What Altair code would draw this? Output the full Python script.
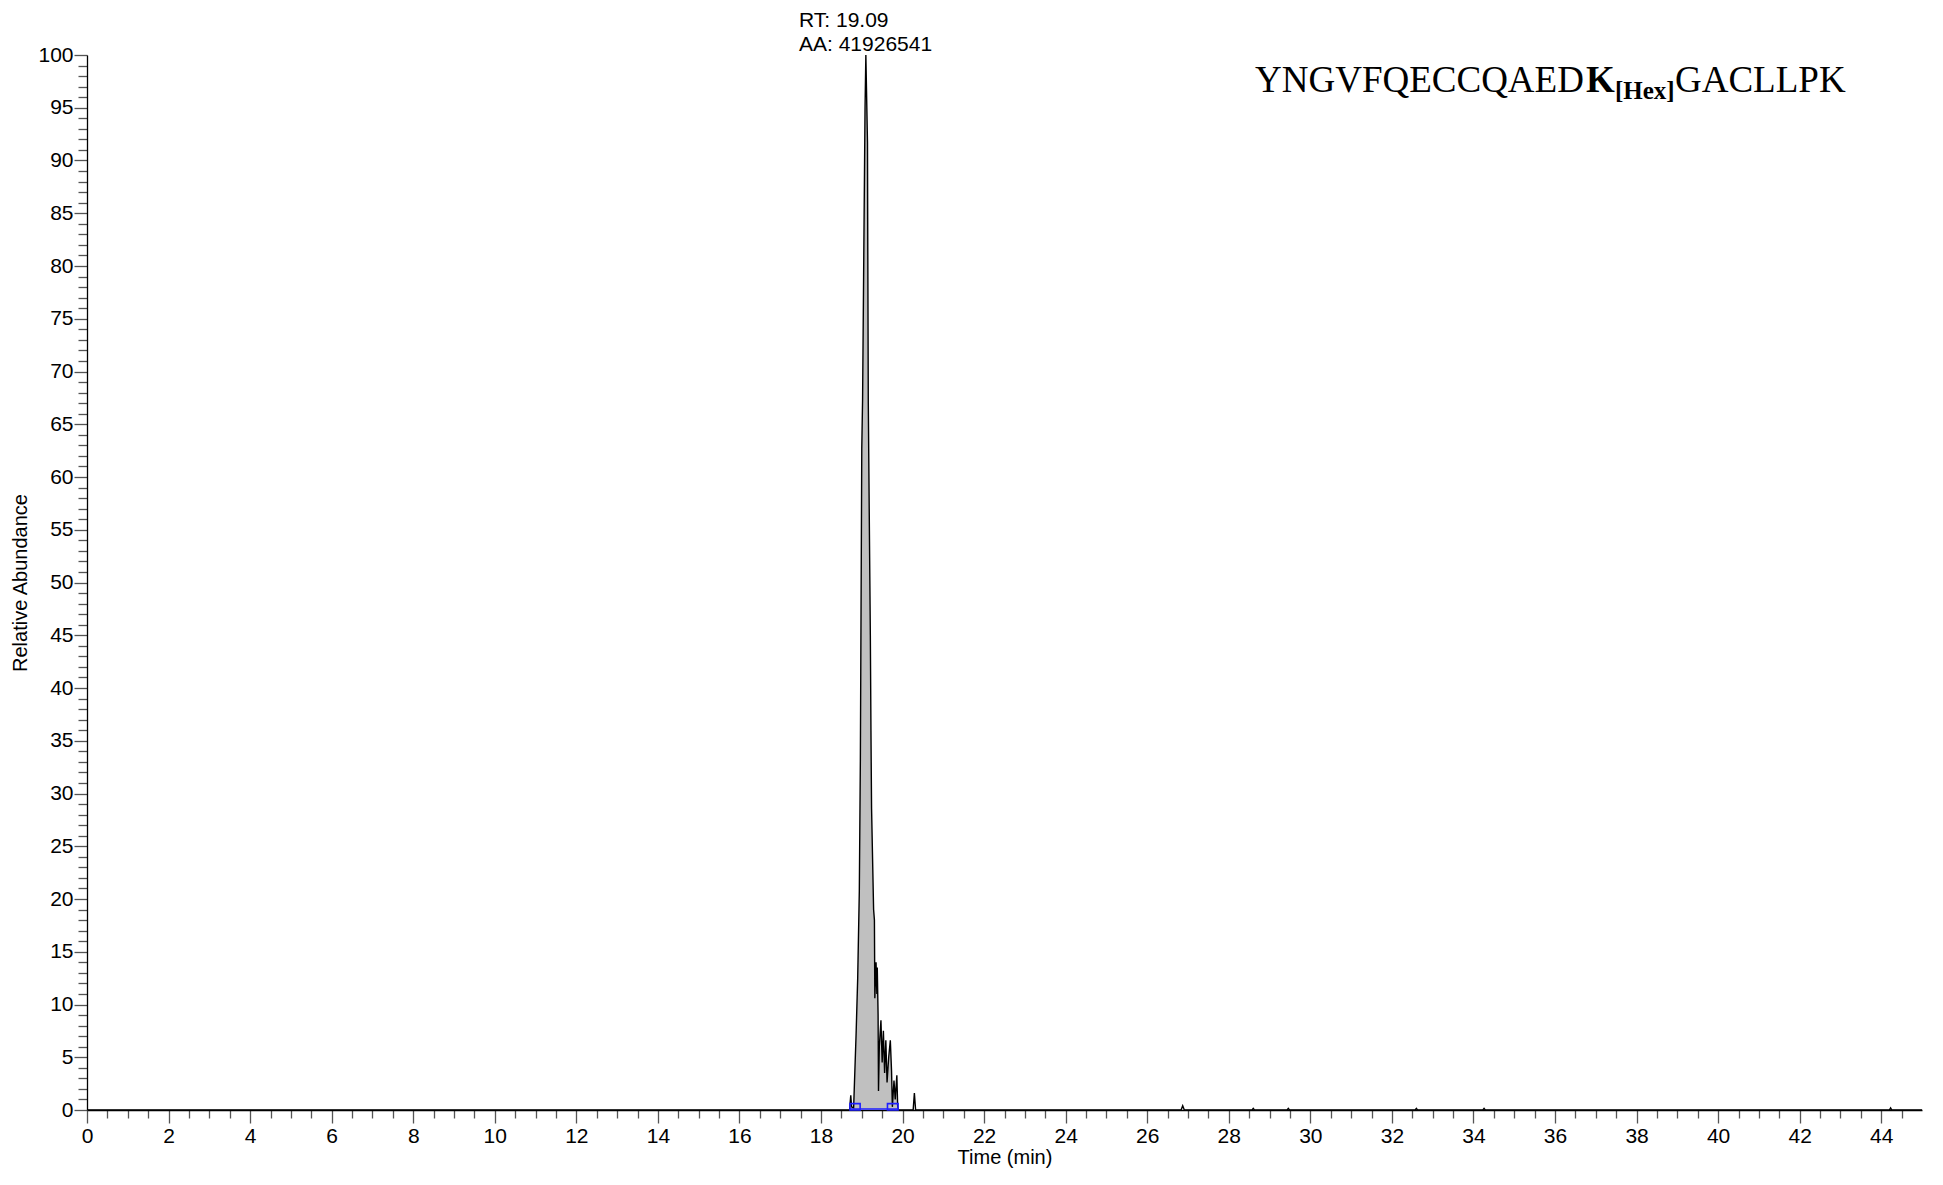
import altair as alt
import pandas as pd

# ---- chromatogram trace (time in min, relative abundance in %) ----
times = [0.0, 18.62, 18.70, 18.73, 18.75, 18.80, 18.86, 18.90, 18.94, 18.965,
         19.00, 19.02, 19.045, 19.08, 19.10, 19.14, 19.145, 19.16, 19.18, 19.21,
         19.225, 19.24, 19.29, 19.31, 19.32, 19.35, 19.37, 19.38, 19.40, 19.41,
         19.43, 19.47, 19.50, 19.53, 19.56, 19.59, 19.62, 19.66, 19.70, 19.73,
         19.75, 19.79, 19.82, 19.86, 19.88, 19.90, 20.26, 20.29, 20.32,
         26.83, 26.87, 26.91, 28.57, 28.60, 28.63, 29.43, 29.46, 29.49,
         32.57, 32.60, 32.63, 34.23, 34.26, 34.29, 44.20, 44.23, 44.26, 45.0]
abundance = [0.0, 0.0, 0.0, 1.4, 0.3, 0.2, 7.1, 12.5, 20.8, 33.0,
             62.7, 67.4, 79.0, 95.0, 100.0, 91.7, 84.4, 67.0, 58.0, 45.0,
             36.0, 28.6, 19.0, 18.0, 10.6, 14.0, 11.0, 13.5, 9.0, 1.8,
             6.0, 8.5, 4.5, 7.5, 3.5, 6.6, 2.6, 5.0, 6.6, 3.7,
             0.3, 2.8, 1.0, 3.3, 0.4, 0.0, 0.0, 1.6, 0.0,
             0.0, 0.4, 0.0, 0.0, 0.15, 0.0, 0.0, 0.15, 0.0,
             0.0, 0.15, 0.0, 0.0, 0.15, 0.0, 0.0, 0.2, 0.0, 0.0]

# integration boundaries (blue markers)
peak_start = 18.71
peak_end = 19.89
marker_x1 = [18.71, 19.63]
marker_x2 = [18.96, 19.89]
marker_h = [0.6, 0.6]

rt_line1 = "RT: 19.09"
rt_line2 = "AA: 41926541"

x_ticks = [i * 0.5 for i in range(0, 90)]
y_ticks = list(range(0, 101))

df = pd.DataFrame({"t": times, "v": abundance})
df_m = pd.DataFrame({"x1": marker_x1, "x2": marker_x2, "h": marker_h})
df_b = pd.DataFrame({"x1": [peak_start], "x2": [peak_end]})

xs = alt.Scale(domain=[0, 45], nice=False, zero=False)
ys = alt.Scale(domain=[0, 100], nice=False)

x_axis = alt.Axis(
    values=x_ticks,
    labelExpr="datum.value % 2 === 0 ? format(datum.value, 'd') : ''",
    tickSize={"condition": {"test": "datum.value % 2 === 0", "value": 13}, "value": 8},
    tickColor="#555555",
    tickWidth=1.3,
    labelPadding=2,
    labelFlush=False,
    labelOverlap=False,
    title="Time (min)",
    titlePadding=1,
)
y_axis = alt.Axis(
    values=y_ticks,
    labelExpr="datum.value % 5 === 0 ? format(datum.value, 'd') : ''",
    tickSize={"condition": {"test": "datum.value % 5 === 0", "value": 13}, "value": 9},
    tickColor="#555555",
    tickWidth=1.3,
    labelPadding=1,
    labelOverlap=False,
    title="Relative Abundance",
    titlePadding=7,
)

base = alt.Chart(df)

area = base.transform_filter(
    f"datum.t >= {peak_start} && datum.t <= {peak_end}"
).mark_area(color="#c0c0c0", opacity=1, clip=True).encode(
    x=alt.X("t:Q", scale=xs, axis=x_axis),
    y=alt.Y("v:Q", scale=ys, axis=y_axis),
)

line = base.mark_line(color="black", strokeWidth=1.4, clip=True).encode(
    x=alt.X("t:Q", scale=xs, axis=x_axis),
    y=alt.Y("v:Q", scale=ys, axis=y_axis),
)

blue_base = alt.Chart(df_b).mark_rule(color="#1f1fff", strokeWidth=1.5).encode(
    x=alt.X("x1:Q", scale=xs, axis=x_axis), x2="x2:Q", y=alt.value(1054)
)

blue_marks = alt.Chart(df_m).mark_rect(
    fill=None, stroke="#1f1fff", strokeWidth=1.6
).encode(
    x=alt.X("x1:Q", scale=xs, axis=x_axis), x2="x2:Q",
    y=alt.Y("h:Q", scale=ys, axis=y_axis), y2=alt.datum(0),
)

rt1 = alt.Chart(pd.DataFrame({"s": [rt_line1]})).mark_text(
    align="left", baseline="alphabetic", font="Liberation Sans", fontSize=21,
    color="black"
).encode(text="s:N", x=alt.value(712), y=alt.value(-28))

rt2 = alt.Chart(pd.DataFrame({"s": [rt_line2]})).mark_text(
    align="left", baseline="alphabetic", font="Liberation Sans", fontSize=21,
    color="black"
).encode(text="s:N", x=alt.value(712), y=alt.value(-4))

pep_parts = ["YNGVFQECCQAED", "K", "[Hex]", "GACLLPK"]
pep_x = [1168, 1499, 1528, 1588]
pep_y = [37, 37, 44, 37]
pep_size = [37, 37, 25, 37]
pep_weight = ["normal", "bold", "bold", "normal"]

pep_layers = []
for s, px, py, fs, fw in zip(pep_parts, pep_x, pep_y, pep_size, pep_weight):
    pep_layers.append(
        alt.Chart(pd.DataFrame({"s": [s]})).mark_text(
            align="left", baseline="alphabetic", font="Liberation Serif",
            fontSize=fs, fontWeight=fw, color="black"
        ).encode(text="s:N", x=alt.value(px), y=alt.value(py))
    )

chart = alt.layer(area, line, blue_base, blue_marks, rt1, rt2, *pep_layers).properties(
    width=1835, height=1055,
    autosize=alt.AutoSizeParams(type="none"),
    padding={"left": 79, "top": 47, "right": 6, "bottom": 61},
    background="white",
).configure_view(stroke=None).configure_axis(
    grid=False,
    domainColor="black",
    domainWidth=1.3,
    labelFont="Liberation Sans",
    labelFontSize=21,
    labelColor="black",
    titleFont="Liberation Sans",
    titleFontSize=20,
    titleFontWeight="normal",
    titleColor="black",
)

chart.save("out.html", embed_options={"renderer": "svg", "actions": False})
